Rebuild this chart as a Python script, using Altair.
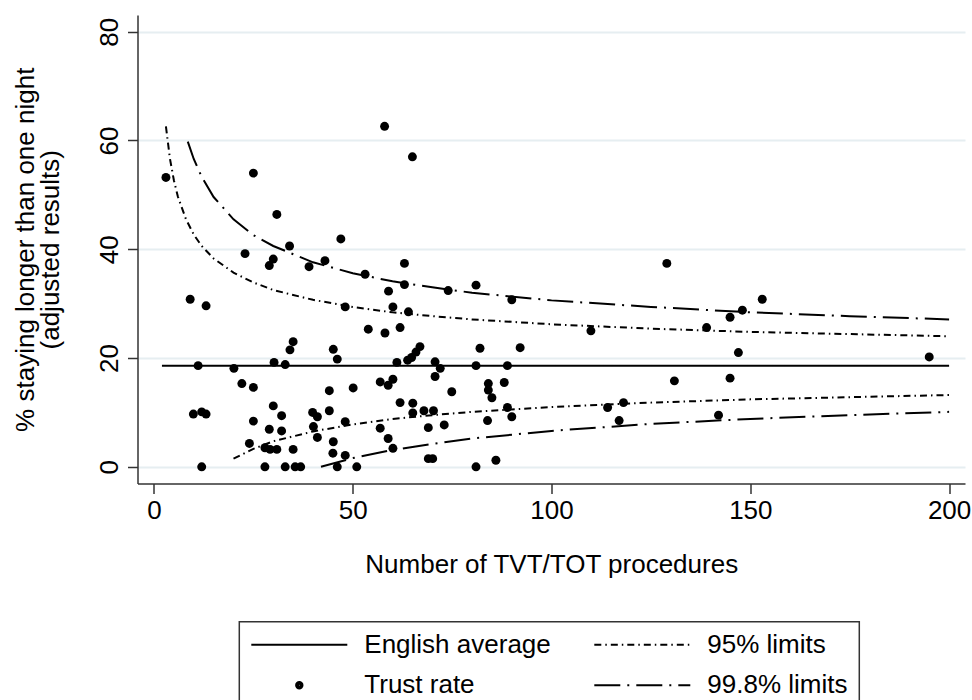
import altair as alt
import pandas as pd

# ---- Trust rates (number of procedures, % staying longer than one night) ----
trust_x = [3.0, 25.0, 30.9, 22.9, 30.0, 29.0, 9.1, 13.1, 11.1, 20.1, 30.2, 33.0, 22.1, 25.0,
           9.9, 13.1, 12.0, 30.0, 32.1, 25.0, 29.0, 32.1, 24.0, 27.9, 29.2, 30.9, 12.0, 27.9, 33.0,
           58.0, 65.0, 34.1, 47.0, 39.0, 43.0, 53.1, 63.0, 63.0, 59.0, 48.1, 60.1, 64.0, 53.9, 58.1,
           61.9, 35.0, 34.2, 45.1, 46.1, 66.9, 65.9, 64.8, 63.8, 61.1, 70.7, 70.7, 56.9, 58.9, 60.1,
           44.1, 50.1, 61.9, 65.1, 65.1, 67.9, 70.3, 39.9, 41.1, 44.1, 40.1, 41.1, 48.1, 56.9, 58.9,
           69.0, 35.0, 45.1, 45.0, 48.1, 60.1, 35.5, 36.9, 46.1, 51.0, 69.0, 70.1,
           74.0, 81.0, 90.0, 82.0, 92.1, 72.0, 81.0, 88.9, 74.9, 84.1, 84.1, 85.0, 88.1, 88.9, 90.0,
           73.0, 83.9, 81.0, 86.0,
           129.0, 153.0, 148.0, 144.9, 109.9, 139.0, 147.0, 195.0, 130.9, 144.9, 114.1, 118.1, 117.0,
           142.0]
trust_y = [53.2, 54.0, 46.4, 39.2, 38.2, 37.0, 30.8, 29.6, 18.6, 18.1, 19.2, 18.8, 15.3, 14.6,
           9.7, 9.7, 10.1, 11.2, 9.4, 8.4, 6.9, 6.6, 4.3, 3.5, 3.2, 3.2, 0.0, 0.0, 0.0,
           62.6, 57.0, 40.6, 41.9, 36.8, 37.9, 35.4, 37.4, 33.5, 32.3, 29.4, 29.4, 28.5, 25.3, 24.6,
           25.6, 23.0, 21.5, 21.6, 19.8, 22.1, 21.1, 20.1, 19.6, 19.2, 19.3, 16.6, 15.6, 15.0, 16.1,
           14.0, 14.5, 11.8, 11.7, 9.9, 10.3, 10.3, 10.0, 9.2, 10.3, 7.4, 5.4, 8.3, 7.1, 5.2,
           7.2, 3.2, 4.6, 2.5, 2.1, 3.4, 0.0, 0.0, 0.0, 0.0, 1.5, 1.5,
           32.4, 33.4, 30.7, 21.8, 21.9, 18.1, 18.6, 18.6, 13.8, 15.3, 14.1, 12.7, 15.5, 10.9, 9.2,
           7.7, 8.5, 0.0, 1.2,
           37.4, 30.8, 28.8, 27.5, 25.0, 25.6, 21.0, 20.2, 15.8, 16.3, 10.9, 11.8, 8.5,
           9.5]

# ---- English average ----
avg_x = [2, 200]
avg_y = [18.6, 18.6]

# ---- 95% control limits ----
u95_x = [3, 4, 5, 6, 8, 10, 12, 15, 20, 25, 30, 40, 50, 60, 70, 80, 100, 125, 150, 175, 200]
u95_y = [62.6, 56.7, 52.7, 49.7, 45.6, 42.7, 40.6, 38.3, 35.7, 33.9, 32.5, 30.7, 29.4, 28.4,
         27.7, 27.1, 26.2, 25.4, 24.8, 24.4, 24.0]
l95_x = [20, 25, 30, 40, 50, 60, 70, 80, 100, 125, 150, 175, 200]
l95_y = [1.5, 3.3, 4.7, 6.5, 7.8, 8.8, 9.5, 10.1, 11.0, 11.8, 12.4, 12.8, 13.2]

# ---- 99.8% control limits ----
u998_x = [8.5, 10, 12, 15, 20, 25, 30, 40, 50, 60, 70, 80, 100, 125, 150, 175, 200]
u998_y = [59.8, 56.6, 53.3, 49.6, 45.5, 42.6, 40.6, 37.6, 35.6, 34.1, 33.0, 32.0, 30.6, 29.4,
          28.4, 27.7, 27.1]
l998_x = [42, 50, 60, 70, 80, 100, 125, 150, 175, 200]
l998_y = [0.0, 1.6, 3.1, 4.2, 5.2, 6.6, 7.9, 8.8, 9.5, 10.1]

line_series = ["English average", "95% limits", "99.8% limits"]
# legend entries listed column by column (2 columns x 2 rows)
legend_order = ["English average", "Trust rate", "95% limits", "99.8% limits"]
x_ticks = [0, 50, 100, 150, 200]
y_ticks = [0, 20, 40, 60, 80]

FONT = "Liberation Sans"
DASH_95 = [7, 4, 1.5, 4]
DASH_998 = [26, 7, 2, 7]
SAMPLE_PX = 96.0  # legend sample length in px (symbol path spans -1..1)
UNIT = SAMPLE_PX / 2.0


def dash_path(pattern):
    """Legend sample drawn as separate sub-paths following a dash pattern."""
    pos, i, parts = -1.0, 0, []
    while pos < 1.0:
        seg = pattern[i % len(pattern)] / UNIT
        end = min(pos + seg, 1.0)
        if i % 2 == 0:
            parts.append("M%.4f,0H%.4f" % (pos, end))
        pos = end
        i += 1
    return "".join(parts)


def dot_path(radii_px):
    """Solid-looking dot made of concentric stroked rings."""
    parts = []
    for rp in radii_px:
        r = rp / UNIT
        parts.append("M-%.4f,0A%.4f,%.4f,0,1,1,%.4f,0A%.4f,%.4f,0,1,1,-%.4f,0" % (r, r, r, r, r, r, r))
    return "".join(parts)


SHAPES = {
    "English average": "M-1,0H1",
    "Trust rate": dot_path([0.6, 1.6, 2.6, 3.2]),
    "95% limits": dash_path(DASH_95),
    "99.8% limits": dash_path(DASH_998),
}
legend_shapes = [SHAPES[k] for k in legend_order]

rows = []
for xs, ys, s, p in [
    (avg_x, avg_y, "English average", "avg"),
    (u95_x, u95_y, "95% limits", "u95"),
    (l95_x, l95_y, "95% limits", "l95"),
    (u998_x, u998_y, "99.8% limits", "u998"),
    (l998_x, l998_y, "99.8% limits", "l998"),
]:
    for a, b in zip(xs, ys):
        rows.append({"x": a, "y": b, "series": s, "part": p})
lines_df = pd.DataFrame(rows)
pts_df = pd.DataFrame({"x": trust_x, "y": trust_y})
legend_df = pd.DataFrame({"entry": legend_order})

x_enc = alt.X(
    "x:Q",
    scale=alt.Scale(domain=[-4.15, 204.0], nice=False, zero=False),
    axis=alt.Axis(
        values=x_ticks, grid=False, tickSize=10, labelPadding=4, labelFontSize=26,
        labelColor="black", labelFlush=False, labelOverlap=False, labelFont=FONT,
        title="Number of TVT/TOT procedures", titleFontSize=26, titleFontWeight="normal",
        titleColor="black", titleFont=FONT, titleY=67.5, titleBaseline="top",
    ),
)
y_enc = alt.Y(
    "y:Q",
    scale=alt.Scale(domain=[-3.07, 83.07], nice=False, zero=False),
    axis=alt.Axis(
        values=y_ticks, grid=True, gridColor="#e6eef1", gridWidth=2, tickSize=10,
        labelPadding=10, labelAngle=270, labelAlign="center", labelBaseline="alphabetic",
        labelFontSize=26, labelColor="black", labelFlush=False, labelOverlap=False, labelFont=FONT,
        title=["% staying longer than one night", "(adjusted results)"],
        titleAngle=270, titleX=-104.2, titleY=234.25, titleBaseline="alphabetic",
        titleAlign="center", titleLineHeight=25, titleFontSize=26, titleFontWeight="normal",
        titleColor="black", titleFont=FONT,
    ),
)

lines = alt.Chart(lines_df).mark_line(color="black", strokeWidth=2).encode(
    x=x_enc,
    y=y_enc,
    strokeDash=alt.StrokeDash(
        "series:N",
        scale=alt.Scale(domain=line_series, range=[[1, 0], DASH_95, DASH_998]),
        legend=None,
    ),
    detail="part:N",
)

points = alt.Chart(pts_df).mark_circle(size=80, color="black", opacity=1).encode(
    x=x_enc, y=y_enc
)

legend_layer = (
    alt.Chart(legend_df)
    .mark_point(filled=False, color="black", strokeWidth=2, opacity=1)
    .encode(
        shape=alt.Shape(
            "entry:N",
            scale=alt.Scale(domain=legend_order, range=legend_shapes),
            legend=alt.Legend(
                title=None, orient="none", legendX=101.8, legendY=606.7, columns=2,
                symbolSize=SAMPLE_PX * SAMPLE_PX, symbolStrokeWidth=2,
                symbolStrokeColor="black", symbolOpacity=1,
                labelFont=FONT, labelFontSize=26, labelColor="black", labelLimit=400,
                labelOffset=16, columnPadding=42, rowPadding=14.5, clipHeight=24, padding=11,
                strokeColor="#333333", fillColor="white",
            ),
        )
    )
    .transform_filter("false")
)

chart = (
    alt.layer(lines, points, legend_layer)
    .properties(
        width=827.5, height=468.5,
        autosize=alt.AutoSizeParams(type="none"),
        padding={"left": 137.5, "top": 15, "right": 7, "bottom": 216.5},
        background="white",
    )
    .configure_view(strokeWidth=0)
    .configure_axis(domainColor="#333333", domainWidth=1.5, tickColor="#333333", tickWidth=1.5)
    .configure_legend(strokeWidth=1.5)
)

chart.save("out.html", embed_options={"renderer": "svg", "actions": False})
